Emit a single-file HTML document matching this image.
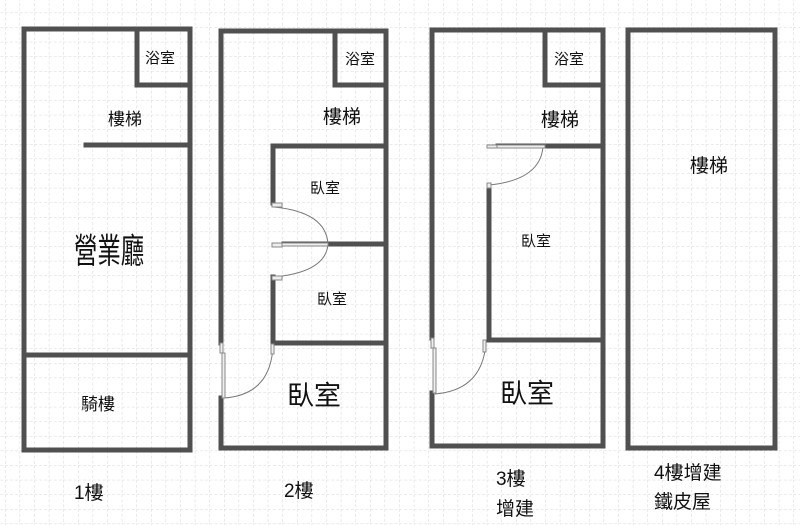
<!DOCTYPE html>
<html><head><meta charset="utf-8"><style>
html,body{margin:0;padding:0;background:#fff}
svg{display:block}
text{font-family:"Liberation Sans","Noto Sans CJK TC",sans-serif;fill:#111}
</style></head><body>
<svg width="800" height="525" viewBox="0 0 800 525" xmlns="http://www.w3.org/2000/svg">
<defs>
<pattern id="g" x="5" y="-2" width="14.6" height="14.6" patternUnits="userSpaceOnUse">
<path d="M0 0H14.6M0 0V14.6" stroke="#d6d6d6" stroke-width="1" stroke-dasharray="3 2" fill="none"/>
</pattern>
</defs>
<rect width="800" height="525" fill="#fff"/>
<rect width="800" height="525" fill="url(#g)"/>
<g stroke="#505050" stroke-width="5" fill="none" stroke-linecap="square">
<rect x="24" y="29" width="166" height="421"/>
<path d="M137 29V85H185M86 145H190M24 355H190"/>
<path d="M221 343V31H386V448H221V398"/>
<path d="M335 31V85H386M273 203V146H386M273 277V343H386M284 244H386"/>
<path d="M432 338V30H603V446H432V393"/>
<path d="M545 30V85H603M498 146H603M489 188V340H603"/>
<rect x="628" y="30" width="147" height="418"/>
</g>
<g stroke="#777" stroke-width="1" fill="none">
<path d="M274 207Q326 212 328 244Q326 272 274 277"/>
<path d="M273 347Q270 395 224 398"/>
<path d="M543 147Q540 180 489 185"/>
<path d="M486 342Q483 390 435 394"/>
</g>
<g fill="#eee" stroke="#888" stroke-width="1">
<rect x="272" y="203" width="10" height="4"/><rect x="272" y="243" width="10" height="4"/><rect x="272" y="276" width="10" height="4"/>
<rect x="282" y="243" width="46" height="3"/>
<rect x="220" y="343" width="3" height="10"/><rect x="271" y="344" width="3" height="10"/>
<rect x="222" y="353" width="3" height="45"/>
<rect x="487" y="145" width="10" height="3"/><rect x="497" y="145" width="48" height="3"/><rect x="487" y="183" width="4" height="5"/>
<rect x="431" y="338" width="3" height="10"/><rect x="483" y="340" width="3" height="12"/>
<rect x="433" y="348" width="3" height="45"/>
</g>
<g font-size="17">
<text x="145" y="63" font-size="15">浴室</text>
<text x="108" y="125">樓梯</text>
<text transform="translate(74,263) scale(0.78,1.15)" font-size="30">營業廳</text>
<text x="81" y="410">騎樓</text>
<text x="345" y="64" font-size="15">浴室</text>
<text x="323" y="123" font-size="19">樓梯</text>
<text x="310" y="193" font-size="15">臥室</text>
<text x="317" y="304" font-size="15">臥室</text>
<text x="287" y="405" font-size="27">臥室</text>
<text x="554" y="64" font-size="15">浴室</text>
<text x="541" y="126" font-size="19">樓梯</text>
<text x="521" y="246" font-size="15">臥室</text>
<text x="500" y="403" font-size="27">臥室</text>
<text x="690" y="172" font-size="19">樓梯</text>
<text x="74" y="499" font-size="19" font-family="Liberation Serif,Noto Serif CJK SC,serif">1樓</text>
<text x="284" y="497" font-size="19" font-family="Liberation Serif,Noto Serif CJK SC,serif">2樓</text>
<text x="496" y="485" font-size="19">3樓</text>
<text x="496" y="515" font-size="19">增建</text>
<text x="654" y="479" font-size="19">4樓增建</text>
<text x="654" y="508" font-size="19">鐵皮屋</text>
</g>
</svg>
</body></html>
